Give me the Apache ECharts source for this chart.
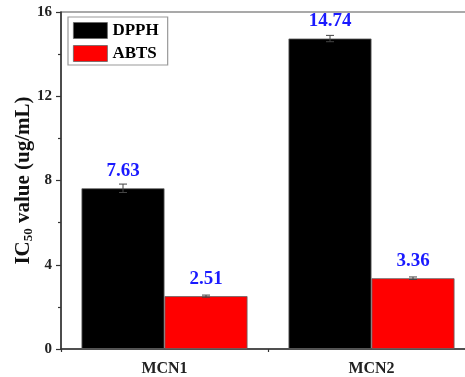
<!DOCTYPE html>
<html>
<head>
<meta charset="utf-8">
<script src="https://cdn.jsdelivr.net/npm/echarts@6/dist/echarts.min.js"></script>
<style>
  html, body { margin: 0; padding: 0; background: #fff; }
  #chart { width: 465px; height: 377px; }
</style>
</head>
<body>
<div id="chart"></div>
<script>
// IC50 values of the two samples in the DPPH and ABTS assays
const categories = ['MCN1', 'MCN2'];
const dpphValues = [7.63, 14.74];
const abtsValues = [2.51, 3.36];
const dpphErrors = [0.20, 0.15];
const abtsErrors = [0.05, 0.06];
const yTicks = [0, 4, 8, 12, 16];

const FONT = '"Liberation Serif", "Times New Roman", serif';
const AXIS_COLOR = '#333';
const BAR_WIDTH = 83;

const chart = echarts.init(document.getElementById('chart'), null, { renderer: 'canvas' });

// Error bar drawn at the centre of each bar; side = -1 (left bar) or +1 (right bar)
function errorBarSeries(name, values, errors, side) {
  return {
    name: name + ' err',
    type: 'custom',
    silent: true,
    z: 5,
    data: values.map((v, i) => [i, v, errors[i]]),
    renderItem: function (params, api) {
      const i = api.value(0);
      const v = api.value(1);
      const e = api.value(2);
      const top = api.coord([i, v + e]);
      const bot = api.coord([i, v - e]);
      const x = top[0] + side * BAR_WIDTH / 2;
      const cap = 4;
      const style = { stroke: '#444', lineWidth: 1 };
      return {
        type: 'group',
        children: [
          { type: 'line', shape: { x1: x, y1: top[1], x2: x, y2: bot[1] }, style: style },
          { type: 'line', shape: { x1: x - cap, y1: top[1], x2: x + cap, y2: top[1] }, style: style },
          { type: 'line', shape: { x1: x - cap, y1: bot[1], x2: x + cap, y2: bot[1] }, style: style }
        ]
      };
    }
  };
}

function barSeries(name, values, errors, color) {
  return {
    name: name,
    type: 'bar',
    barWidth: BAR_WIDTH,
    barGap: '0%',
    data: values.map((v, i) => ({ value: v, err: errors[i] })),
    itemStyle: { color: color, borderColor: '#666', borderWidth: 0.8 },
    label: {
      show: true,
      position: 'top',
      distance: 8,
      color: '#1a1aff',
      fontFamily: FONT,
      fontWeight: 'bold',
      fontSize: 19,
      formatter: p => p.value.toFixed(2)
    }
  };
}

const option = {
  animation: false,
  backgroundColor: '#fff',
  grid: {
    left: 61, top: 12, width: 414, height: 337,
    outerBoundsMode: 'none',
    containLabel: false,
    show: true, borderColor: '#555', borderWidth: 1.2, backgroundColor: 'transparent'
  },
  legend: {
    orient: 'vertical',
    left: 68, top: 17,
    icon: 'rect',
    itemWidth: 34, itemHeight: 16, itemGap: 6,
    padding: [5, 9, 3, 5],
    borderColor: '#999', borderWidth: 1.2,
    data: ['DPPH', 'ABTS'],
    itemStyle: { borderColor: '#666', borderWidth: 0.8 },
    textStyle: { fontFamily: FONT, fontWeight: 'bold', fontSize: 17, color: '#000' }
  },
  xAxis: [
    {
      type: 'category',
      data: categories,
      axisLine: { lineStyle: { color: AXIS_COLOR, width: 1.5 } },
      axisTick: { alignWithLabel: true, length: 5, lineStyle: { color: AXIS_COLOR, width: 1.2 } },
      axisLabel: { fontFamily: FONT, fontWeight: 'bold', fontSize: 16, color: '#222', margin: 12 }
    },
    {
      // boundary ticks between categories
      type: 'category',
      data: categories,
      position: 'bottom',
      axisLine: { show: false },
      axisTick: { show: true, length: 3, lineStyle: { color: AXIS_COLOR, width: 1.2 } },
      axisLabel: { show: false }
    }
  ],
  yAxis: {
    type: 'value',
    min: yTicks[0],
    max: yTicks[yTicks.length - 1],
    interval: 4,
    name: '{b|IC}{s|50}{b| value (ug/mL)}',
    nameLocation: 'middle',
    nameGap: 26,
    nameMoveOverlap: false,
    nameTextStyle: {
      rich: {
        b: { fontFamily: FONT, fontWeight: 'bold', fontSize: 21, color: '#111' },
        s: { fontFamily: FONT, fontWeight: 'bold', fontSize: 13, color: '#111', verticalAlign: 'bottom', padding: [9, 0, 0, 0] }
      }
    },
    axisLine: { show: true, lineStyle: { color: AXIS_COLOR, width: 1.5 } },
    axisTick: { show: true, length: 5, lineStyle: { color: AXIS_COLOR, width: 1.2 } },
    minorTick: { show: true, splitNumber: 2, length: 3, lineStyle: { color: AXIS_COLOR, width: 1.2 } },
    splitLine: { show: false },
    axisLabel: { fontFamily: FONT, fontWeight: 'bold', fontSize: 15, color: '#222', margin: 9 }
  },
  series: [
    barSeries('DPPH', dpphValues, dpphErrors, '#000000'),
    barSeries('ABTS', abtsValues, abtsErrors, '#ff0000'),
    errorBarSeries('DPPH', dpphValues, dpphErrors, -1),
    errorBarSeries('ABTS', abtsValues, abtsErrors, 1)
  ]
};

chart.setOption(option);
</script>
</body>
</html>
